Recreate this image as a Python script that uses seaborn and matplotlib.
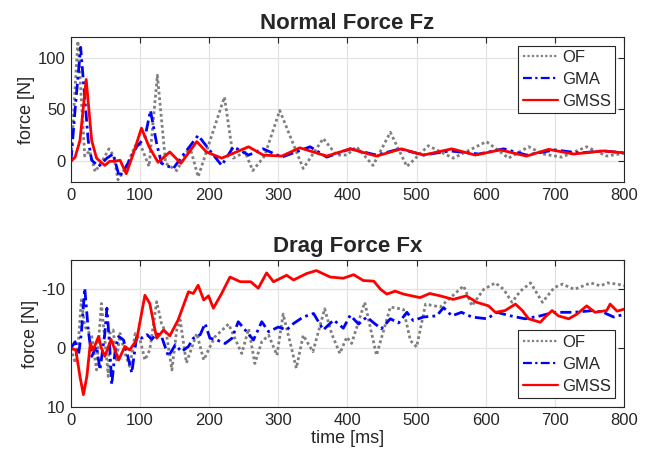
import numpy as np
import pandas as pd
import matplotlib
matplotlib.use("Agg")
import matplotlib.pyplot as plt
import seaborn as sns

# ---- Normal force Fz (top panel) ----
fz_of_t = [0, 5, 10, 15, 20, 27, 35, 45, 55, 62, 68, 80, 93, 100, 113, 125, 137, 153, 172, 184,
           222, 235, 252, 263, 280, 302, 336, 365, 384, 399, 413, 437, 462, 486, 517, 553,
           601, 633, 662, 683, 710, 746, 775, 802]
fz_of = [0, 60, 116, 60, 5, 10, -10, 0, 12, 5, -18, -5, 15, 17, -5, 83, -2, -9, 14, -15,
         62, 3, 9, -9, 5, 49, -7, 22, 6, 6, 14, -4, 28, -5, 15, 3,
         19, 3, 14, 7, 4, 14, 5, 8]

fz_gma_t = [0, 6, 14, 25, 30, 40, 52, 61, 70, 80, 95, 107, 115, 124, 131, 148, 160, 184, 199,
            218, 235, 257, 278, 305, 346, 370, 404, 442, 476, 510, 548, 590, 626, 659, 700,
            735, 770, 802]
fz_gma = [0, 50, 110, 20, 1, -5, 3, 7, -15, -5, 14, 23, 49, 17, -2, -7, 4, 25, 12,
          -4, 14, 6, 12, 4, 14, 4, 12, 6, 12, 6, 10, 7, 12, 6, 11,
          8, 10, 8]

fz_gmss_t = [0, 6, 13, 22, 30, 37, 49, 56, 63, 71, 80, 90, 102, 113, 126, 143, 159, 182, 196,
             218, 257, 278, 305, 331, 370, 404, 442, 478, 510, 551, 585, 621, 659, 691, 727,
             770, 802]
fz_gmss = [0, 4, 20, 79, 20, 3, -4, 0, 0, 1, -12, 7, 32, 14, -1, 9, -2, 19, 9,
           3, 14, 6, 5, 13, 5, 12, 5, 12, 6, 12, 6, 11, 5, 11.5, 7,
           10, 8]

# ---- Drag force Fx (bottom panel) ----
fx_of_t = [0, 6, 11, 15, 20, 30, 37, 44, 54, 56, 61, 66, 71, 78, 85, 93, 100, 107, 114, 124,
           131, 138, 146, 153, 158, 167, 182, 192, 208, 228, 247, 257, 266, 276, 286, 298,
           307, 326, 336, 350, 367, 377, 389, 399, 406, 425, 435, 442, 462, 481, 491, 500,
           513, 534, 568, 580, 597, 614, 626, 638, 650, 665, 682, 699, 711, 728, 752, 766,
           776, 790, 802]
fx_of = [0, 2.5, -1.4, -8.2, -3.7, -2, 3.7, -7.6, 4.8, -2.5, -3.1, 2, -2.5, 0.8, 3.1, -2.5,
         -1.4, 2, 0.3, -7.9, -4.2, -2.5, 3.7, -3.1, -4.8, 2.5, -2.5, 2, -1.9, -4.1, 0.9, -3.3,
         2.6, -1.1, -2.2, 1.2, -5.8, 3.4, -2.2, 0.6, -6.7, -2.5, 0.9, -1.9, -0.8, -7.8, -2.5,
         1.2, -7, -6.6, -1.3, -0.2, -7.5, -7, -10.6, -7.2, -10, -11.1, -10, -7.8, -9.7, -11.1,
         -7.8, -10.3, -10.9, -10, -11.1, -10.6, -11.1, -10.9, -10.6]

fx_gma_t = [0, 6, 11, 15, 20, 25, 30, 37, 42, 49, 52, 56, 59, 64, 69, 76, 81, 88, 95, 102,
            110, 117, 124, 131, 141, 151, 160, 170, 177, 187, 194, 201, 211, 223, 233, 242,
            252, 264, 276, 286, 300, 312, 322, 336, 351, 365, 380, 394, 404, 416, 428, 437,
            449, 462, 474, 486, 495, 510, 529, 539, 551, 565, 580, 602, 616, 636, 657, 679,
            699, 727, 756, 770, 785, 802]
fx_gma = [0, -1.1, 1.1, -2.5, -10.2, -3.1, 1.4, -0.3, 3.7, -2.5, -6.8, -0.3, 6.2, 0.3, -2,
          -1.4, 0.8, 4.2, -2, -1.7, -2.3, -1.5, -2.5, -2, 1.4, -0.6, 0.6, -0.3, -1.7, -2.3,
          -4.2, -1.7, -1.4, -0.8, -1.7, -4.5, -3.1, -1.4, -4.5, -2.8, -3.6, -3.1, -4.2, -5.3,
          -5.9, -3.1, -4.8, -3.4, -5.6, -4.1, -5.3, -4.4, -3.3, -5, -4.3, -6.1, -4.7, -5.3,
          -5.5, -6.9, -5.5, -6.1, -5.3, -5, -6.1, -5.5, -5, -5.5, -6.1, -6.1, -6.4, -6.1,
          -5.3, -5.8]

fx_gmss_t = [0, 7, 13, 18, 23, 28, 32, 40, 44, 49, 58, 69, 78, 85, 95, 107, 114, 124, 134,
             143, 155, 170, 177, 184, 192, 199, 206, 218, 230, 245, 260, 271, 283, 293, 312,
             322, 341, 355, 375, 394, 409, 423, 438, 448, 457, 469, 481, 505, 519, 534, 553,
             572, 587, 604, 614, 628, 643, 653, 662, 679, 686, 696, 705, 720, 732, 746, 758,
             775, 780, 790, 802]
fx_gmss = [0, 0.3, 4.8, 7.9, 4.8, -0.8, 0.3, -2, 0, 1.4, -1.5, 2, -0.3, 0.3, -1.4, -9,
           -7.6, -1.7, -3.1, -2.1, -4.8, -9.6, -9.3, -10.7, -8.2, -8.9, -6.8, -9.3, -12.1,
           -11.3, -11.3, -10.2, -12.8, -11.3, -12.4, -11.6, -12.7, -13.2, -12.1, -11.9, -12.5,
           -11.5, -11.4, -10, -9.2, -9.7, -9.2, -8.6, -9.3, -8.9, -8.3, -8.9, -7.8, -7.2,
           -6.1, -6.4, -7.5, -6.4, -5, -4.4, -5.3, -6.4, -5.5, -5, -5.8, -7.2, -6.1, -6.4,
           -7.5, -6.3, -6.7]

sns.set_style("white")
plt.rcParams["font.family"] = ["Liberation Sans", "DejaVu Sans"]
plt.rcParams["axes.unicode_minus"] = False

fig = plt.figure(figsize=(6.51, 4.59), dpi=100)
ax1 = fig.add_axes([0.109, 0.6035, 0.8495, 0.316])
ax2 = fig.add_axes([0.109, 0.1133, 0.8495, 0.3203])

styles = {"OF": dict(color="#7f7f7f", linestyle=(0, (1, 1))),
          "GMA": dict(color="#0000ff", linestyle=(0, (4, 1.5, 1, 1.5))),
          "GMSS": dict(color="#ff0000", linestyle="-")}

top = [("OF", fz_of_t, fz_of), ("GMA", fz_gma_t, fz_gma), ("GMSS", fz_gmss_t, fz_gmss)]
bot = [("OF", fx_of_t, fx_of), ("GMA", fx_gma_t, fx_gma), ("GMSS", fx_gmss_t, fx_gmss)]

for ax, series in [(ax1, top), (ax2, bot)]:
    for name, t, v in series:
        df = pd.DataFrame({"time": t, "force": v})
        sns.lineplot(data=df, x="time", y="force", ax=ax, label=name, linewidth=2,
                     **styles[name])

leg_kw = dict(fontsize=12, handlelength=2.1, frameon=True, fancybox=False,
              edgecolor="#262626", framealpha=1, borderpad=0.25, labelspacing=0.42,
              handletextpad=0.25, borderaxespad=0.55)

for ax in (ax1, ax2):
    ax.set_xlim(0, 800)
    ax.set_xticks(range(0, 801, 100))
    ax.grid(True, color="#e3e3e3", linewidth=0.9)
    ax.tick_params(direction="in", length=4, width=0.8, top=True, right=True,
                   labelsize=12, colors="#262626", pad=4)
    for s in ax.spines.values():
        s.set_color("#262626")
        s.set_linewidth(0.8)
    ax.set_ylabel("force [N]", fontsize=13, color="#262626", labelpad=2)
    ax.set_xlabel("")

ax1.set_ylim(-20, 120)
ax1.set_yticks([0, 50, 100])
ax1.set_title("Normal Force Fz", fontsize=16, fontweight="bold", pad=6)
leg1 = ax1.legend(loc="upper right", **leg_kw)

ax2.set_ylim(10, -15)
ax2.set_yticks([-10, 0, 10])
ax2.set_title("Drag Force Fx", fontsize=16, fontweight="bold", pad=6)
ax2.set_xlabel("time [ms]", fontsize=13, color="#262626", labelpad=2)
leg2 = ax2.legend(loc="lower right", **leg_kw)

for leg in (leg1, leg2):
    leg.get_frame().set_linewidth(0.8)
    for ln in leg.get_lines():
        ln.set_linewidth(1.6)

fig.savefig("out.png", dpi=100)
